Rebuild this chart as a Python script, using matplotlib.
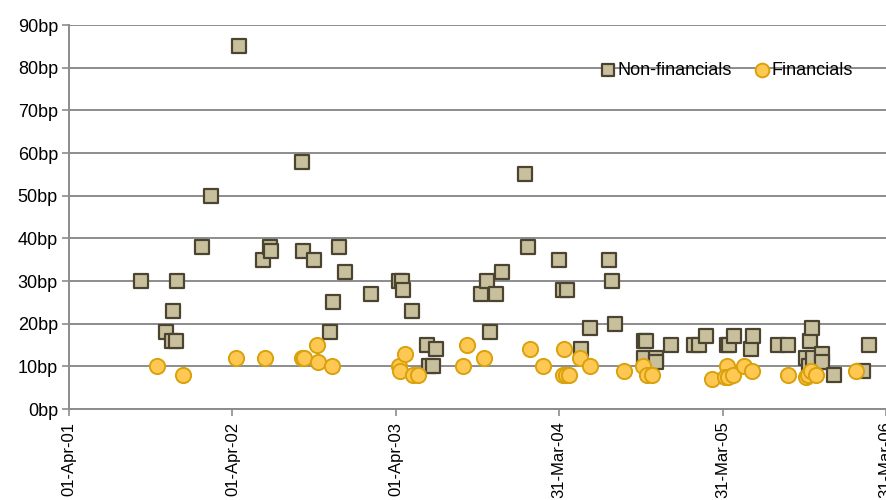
import matplotlib
matplotlib.use("Agg")
import matplotlib.pyplot as plt
import matplotlib.dates as mdates
import numpy as np
import pandas as pd

# Spread of new issues, in basis points, by issue date
nonfin_dates = [
    "2001-09-09", "2001-11-04", "2001-11-16", "2001-11-19", "2001-11-26", "2001-11-28",
    "2002-01-22", "2002-02-12", "2002-04-16", "2002-06-08", "2002-06-25", "2002-06-26",
    "2002-09-04", "2002-09-05", "2002-10-01", "2002-11-05", "2002-11-11", "2002-11-26",
    "2002-12-09", "2003-02-05", "2003-04-09", "2003-04-14", "2003-04-16", "2003-05-08",
    "2003-06-10", "2003-06-15", "2003-06-24", "2003-06-30", "2003-10-09", "2003-10-22",
    "2003-10-28", "2003-11-10", "2003-11-24", "2004-01-15", "2004-01-21", "2004-03-31",
    "2004-04-08", "2004-04-18", "2004-05-19", "2004-06-08", "2004-07-20", "2004-07-27",
    "2004-08-03", "2004-10-06", "2004-10-12", "2004-10-06", "2004-11-02", "2004-11-03",
    "2004-12-06", "2005-01-26", "2005-02-07", "2005-02-23", "2005-04-09", "2005-04-14",
    "2005-04-25", "2005-06-02", "2005-06-08", "2005-08-01", "2005-08-23", "2005-10-04",
    "2005-10-09", "2005-10-12", "2005-10-16", "2005-10-19", "2005-11-07", "2005-11-08",
    "2005-12-04", "2006-02-08", "2006-02-21",
]
nonfin_bp = [
    30, 18, 16, 23, 16, 30,
    38, 50, 85, 35, 38, 37,
    58, 37, 35, 18, 25, 38,
    32, 27, 30, 30, 28, 23,
    15, 10, 10, 14, 27, 30,
    18, 27, 32, 55, 38, 35,
    28, 28, 14, 19, 35, 30,
    20, 16, 16, 12, 12, 11,
    15, 15, 15, 17, 15, 15,
    17, 14, 17, 15, 15, 12,
    10, 16, 19, 12, 13, 11,
    8, 9, 15,
]

fin_dates = [
    "2001-10-15", "2001-12-12", "2002-04-08", "2002-06-13", "2002-09-04", "2002-09-09",
    "2002-10-06", "2002-10-09", "2002-11-10", "2003-04-09", "2003-04-10", "2003-04-22",
    "2003-05-10", "2003-05-21", "2003-08-28", "2003-09-08", "2003-10-15", "2004-01-26",
    "2004-02-24", "2004-04-09", "2004-04-11", "2004-04-15", "2004-04-22", "2004-05-16",
    "2004-06-07", "2004-08-22", "2004-10-04", "2004-10-14", "2004-10-25", "2005-03-07",
    "2005-04-09", "2005-04-06", "2005-04-13", "2005-04-24", "2005-05-18", "2005-06-05",
    "2005-08-24", "2005-10-04", "2005-10-08", "2005-10-14", "2005-10-26", "2006-01-23",
]
fin_bp = [
    10, 8, 12, 12, 12, 12,
    15, 11, 10, 10, 9, 13,
    8, 8, 10, 15, 12, 14,
    10, 8, 14, 8, 8, 12,
    10, 9, 10, 8, 8, 7,
    10, 7.5, 7.5, 8, 10, 9,
    8, 7.5, 8, 9, 8, 9,
]

y_ticks = list(range(0, 100, 10))
y_tick_labels = [f"{v}bp" for v in y_ticks]
x_tick_dates = ["2001-04-01", "2002-04-01", "2003-04-01", "2004-03-31", "2005-03-31", "2006-03-31"]

plt.rcParams["font.family"] = ["Liberation Sans", "DejaVu Sans"]

fig = plt.figure(figsize=(8.87, 5.0), dpi=100)
ax = fig.add_axes([69 / 887, 1 - 409 / 500, (886 - 69) / 887, (409 - 25) / 500])

grid_col = "#8c8c8c"
ax.set_ylim(0, 90)
ax.set_xlim(pd.Timestamp("2001-04-01"), pd.Timestamp("2006-03-31"))
ax.set_yticks(y_ticks)
ax.set_yticklabels(y_tick_labels)
ax.set_xticks(pd.to_datetime(x_tick_dates))
ax.xaxis.set_major_formatter(mdates.DateFormatter("%d-%b-%y"))
ax.yaxis.grid(True, color=grid_col, linewidth=1.4)
ax.set_axisbelow(True)

for side in ("top", "right"):
    ax.spines[side].set_visible(False)
for side in ("left", "bottom"):
    ax.spines[side].set_color(grid_col)
    ax.spines[side].set_linewidth(1.4)

ax.tick_params(axis="y", direction="out", length=5, width=1.2, color=grid_col,
               labelsize=13, pad=3, labelcolor="black")
ax.tick_params(axis="x", direction="out", length=5, width=1.2, color=grid_col,
               labelsize=12, pad=4, labelrotation=90, labelcolor="black")

ax.scatter(pd.to_datetime(nonfin_dates), nonfin_bp, marker="s", s=105,
           facecolor="#c8c09c", edgecolor="#4a4430", linewidth=1.6,
           label="Non-financials", zorder=3)
ax.scatter(pd.to_datetime(fin_dates), fin_bp, marker="o", s=120,
           facecolor="#ffc852", edgecolor="#d9a10c", linewidth=1.4,
           label="Financials", zorder=4)

leg = ax.legend(loc="upper right", bbox_to_anchor=(0.968, 0.922), ncol=2, frameon=False,
                fontsize=13, handletextpad=0.0, columnspacing=1.2, markerscale=0.9,
                borderaxespad=0.0, handlelength=1.0)

fig.savefig("out.png", dpi=100)
